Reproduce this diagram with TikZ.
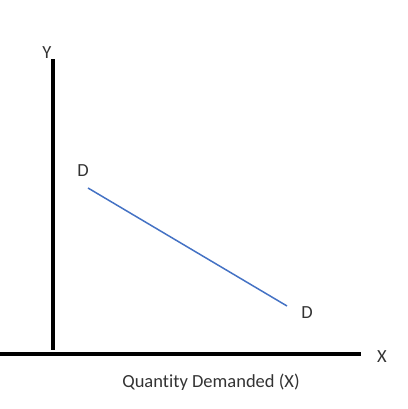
\documentclass[tikz,border=0pt]{standalone}
\usepackage{fontspec}
\setmainfont[Ligatures=NoCommon]{Carlito}
\usepackage{tikz}
\usetikzlibrary{positioning}
\definecolor{demandblue}{HTML}{4472C4}
\tikzset{
  axis/.style={line width=4pt, black},
  lbl/.style={text=black!80, inner sep=0pt, font=\fontsize{18.5}{22}\selectfont}
}

\begin{document}
\begin{tikzpicture}[x=1pt,y=1pt]
	\useasboundingbox (0,0) rectangle (407,409);
	% axes
	\coordinate (ytop) at (53,350);
	\coordinate (ybot) at (53,59);
	\coordinate (xleft) at (0,55);
	\coordinate (xright) at (361,55);
	\draw[axis] (ybot) -- (ytop);
	\draw[axis] (xleft) -- (xright);
	\node[lbl] (ylabel) at (47,356) {Y};
	\node[lbl] (xlabel) at (382,52) {X};
	\node[lbl] (xtitle) at (211,27) {Quantity Demanded (X)};
	% demand curve
	\coordinate (dstart) at (88,221);
	\coordinate (dend) at (287,103);
	\draw[demandblue, line width=1.5pt] (dstart) -- (dend);
	\node[lbl] (dupper) at (83,238) {D};
	\node[lbl] (dlower) at (307,96) {D};
\end{tikzpicture}
\end{document}
